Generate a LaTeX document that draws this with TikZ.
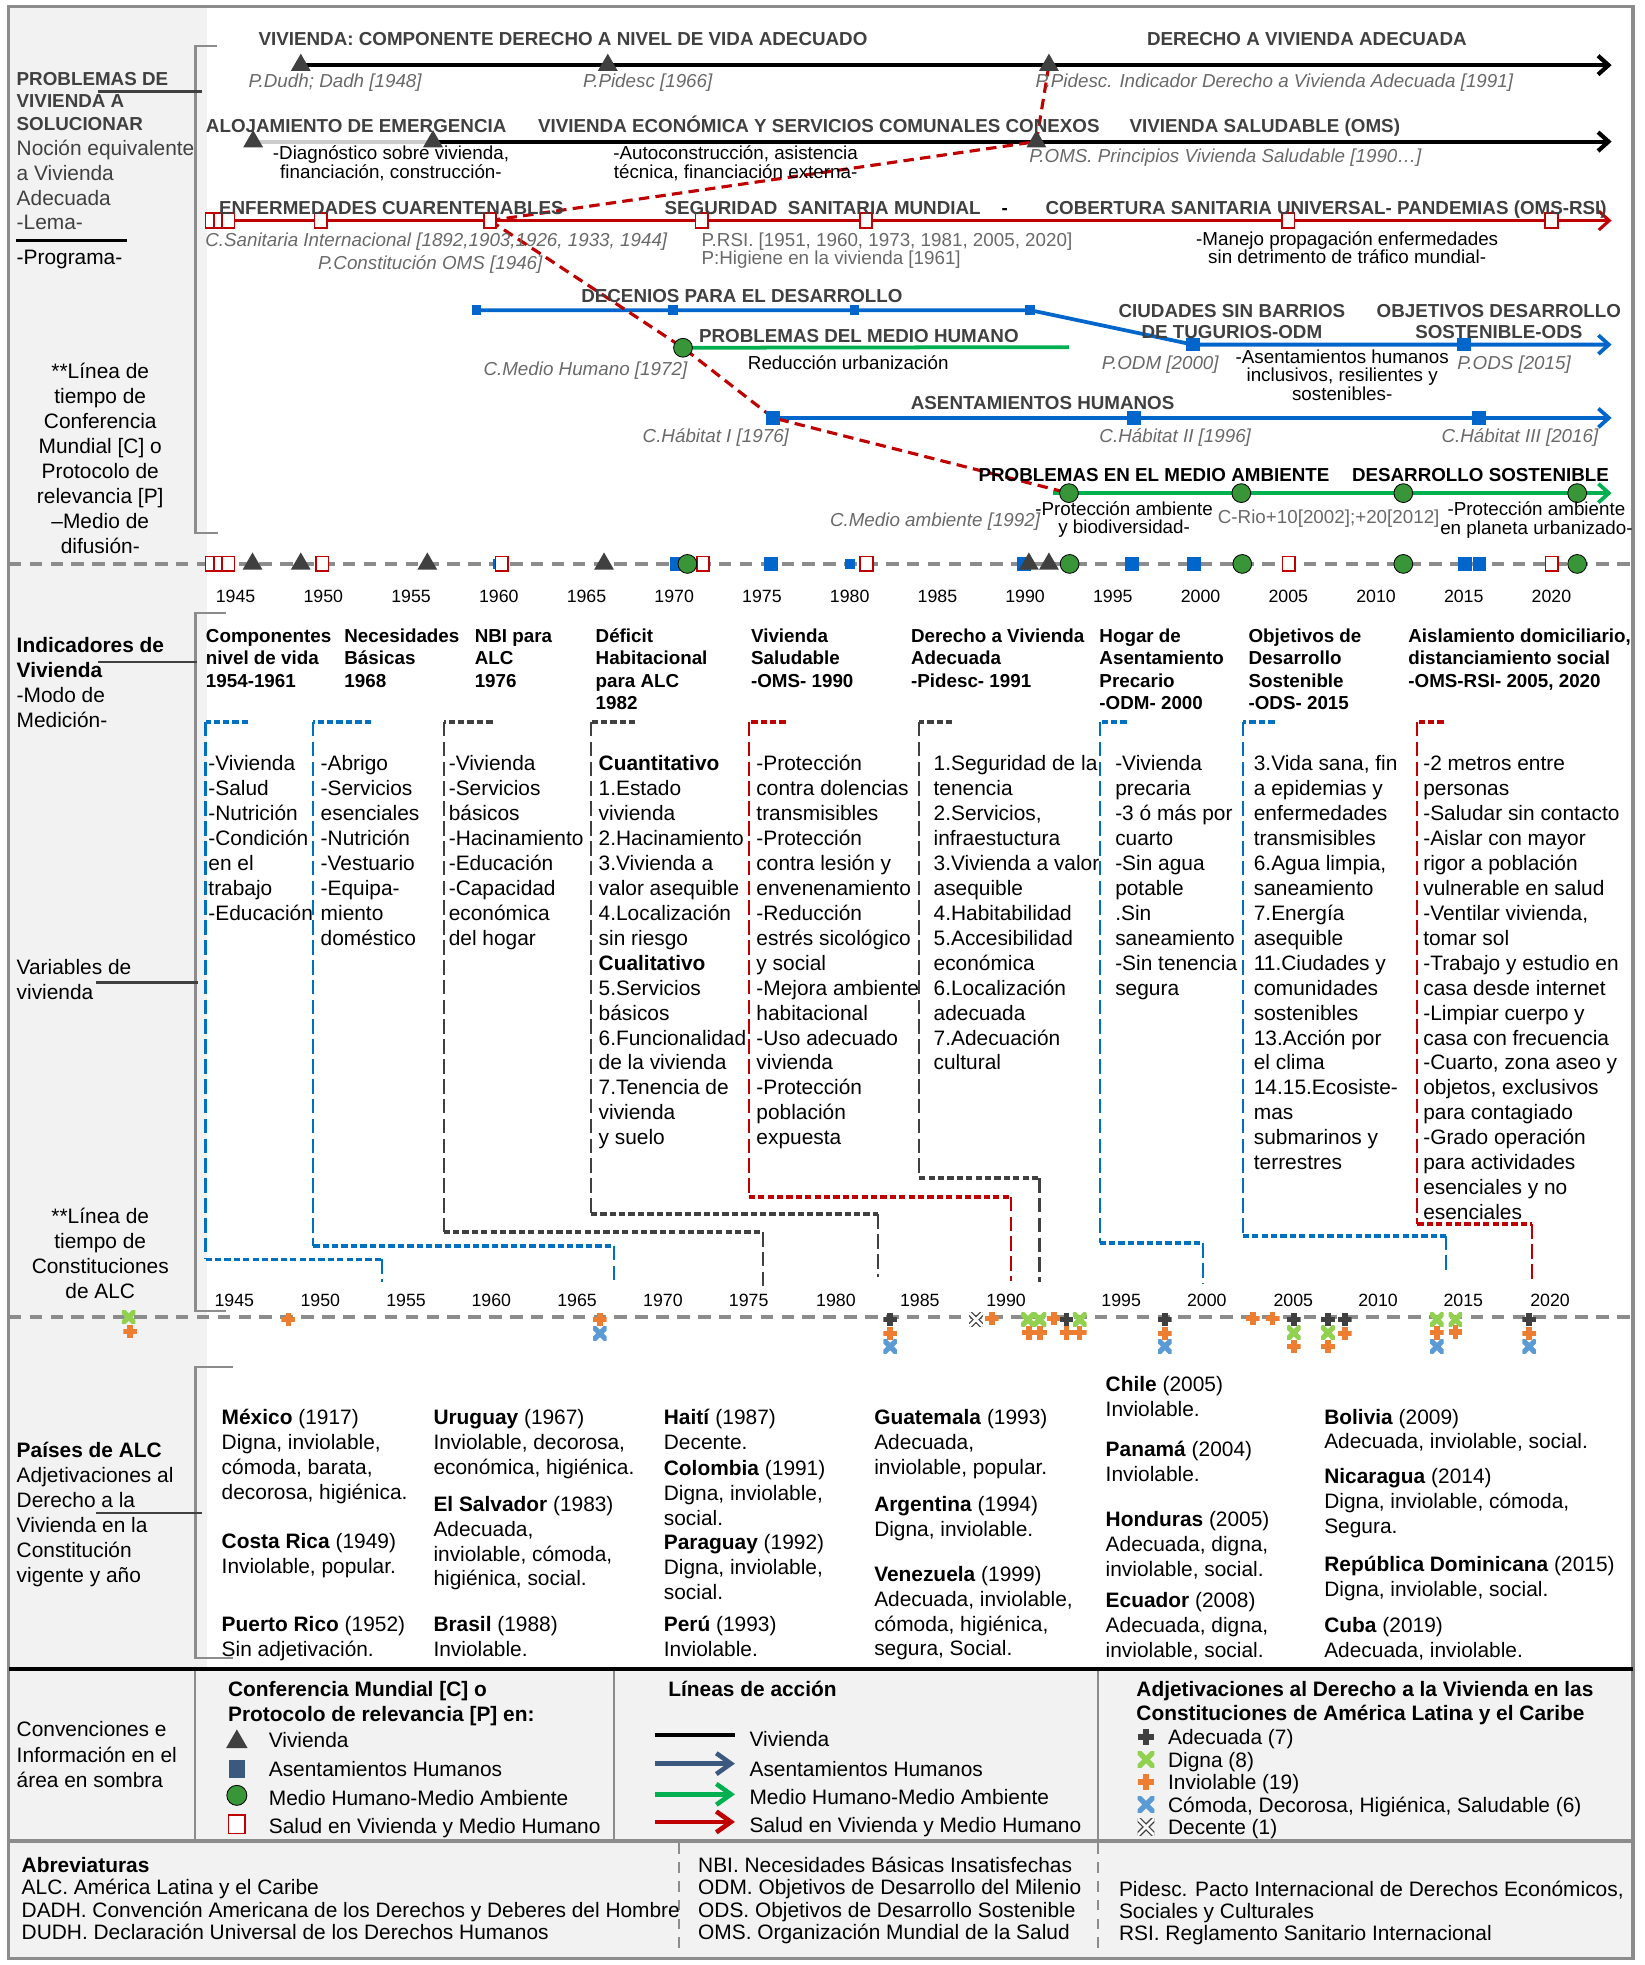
\documentclass[tikz,border=0pt]{standalone}
\usepackage{fontspec}
\setmainfont{Liberation Sans}
\usetikzlibrary{arrows.meta,shapes.geometric}
\definecolor{darkred}{RGB}{192,0,0}
\definecolor{darkgreen}{RGB}{0,176,80}
\definecolor{dotgreen}{RGB}{56,150,56}
\definecolor{darkblue}{RGB}{0,102,204}
\definecolor{bracketblue}{RGB}{0,112,192}
\definecolor{slateblue}{RGB}{59,88,126}
\definecolor{titlegrey}{RGB}{64,64,64}
\definecolor{labelgrey}{RGB}{105,105,105}
\definecolor{framegrey}{RGB}{140,140,140}
\definecolor{shadegrey}{RGB}{242,242,242}
\definecolor{lightgrey}{RGB}{205,205,205}
\definecolor{adjdark}{RGB}{64,64,64}
\definecolor{adjgreen}{RGB}{146,208,80}
\definecolor{adjorange}{RGB}{237,125,49}
\definecolor{adjblue}{RGB}{91,155,213}
\tikzstyle{linetitle}=[anchor=base west,inner sep=0pt,text=titlegrey,font=\bfseries\fontsize{9}{10.3}\selectfont]
\tikzstyle{blocktitle}=[anchor=base,inner sep=0pt,align=center,text=titlegrey,font=\bfseries\fontsize{9}{10.3}\selectfont]
\tikzstyle{eventlabel}=[anchor=base west,inner sep=0pt,text=labelgrey,font=\itshape\fontsize{9}{10.8}\selectfont]
\tikzstyle{eventplain}=[anchor=base west,inner sep=0pt,align=left,text=labelgrey,font=\fontsize{9}{8.8}\selectfont]
\tikzstyle{linenote}=[anchor=base,inner sep=0pt,align=center,font=\fontsize{9}{8.8}\selectfont]
\tikzstyle{sidetext}=[anchor=base west,inner sep=0pt,align=left,font=\fontsize{10}{11.9}\selectfont]
\tikzstyle{sidecenter}=[anchor=base,inner sep=0pt,align=center,font=\fontsize{10}{12}\selectfont]
\tikzstyle{indhead}=[anchor=base west,inner sep=0pt,align=left,font=\bfseries\fontsize{9}{10.8}\selectfont]
\tikzstyle{indvar}=[anchor=base west,inner sep=0pt,align=left,font=\fontsize{10}{11.94}\selectfont]
\tikzstyle{country}=[anchor=base west,inner sep=0pt,align=left,font=\fontsize{10}{12}\selectfont]
\tikzstyle{yearlabel}=[anchor=base,inner sep=0pt,font=\fontsize{8.5}{10}\selectfont]
\tikzstyle{legendtext}=[anchor=base west,inner sep=0pt,align=left,font=\fontsize{10}{12}\selectfont]
\tikzstyle{legendhead}=[anchor=base west,inner sep=0pt,align=left,font=\bfseries\fontsize{10}{11.8}\selectfont]
\tikzstyle{abbrevtext}=[anchor=base west,inner sep=0pt,align=left,font=\fontsize{10}{10.75}\selectfont]
\tikzstyle{protocol}=[regular polygon,regular polygon sides=3,fill=titlegrey,inner sep=0pt,minimum size=11pt]
\tikzstyle{habitat}=[rectangle,fill=darkblue,inner sep=0pt,minimum width=6.5pt,minimum height=6.5pt]
\tikzstyle{habitatsmall}=[rectangle,fill=darkblue,inner sep=0pt,minimum size=4.5pt]
\tikzstyle{environ}=[circle,fill=dotgreen,draw=black,line width=0.4pt,inner sep=0pt,minimum size=9pt]
\tikzstyle{health}=[rectangle,draw=darkred,fill=white,line width=0.8pt,inner sep=0pt,minimum width=6pt,minimum height=7pt]
\tikzstyle{housingline}=[black,line width=2pt]
\tikzstyle{emergencyline}=[lightgrey,line width=2pt]
\tikzstyle{healthline}=[darkred,line width=1.5pt]
\tikzstyle{settleline}=[darkblue,line width=1.8pt]
\tikzstyle{envline}=[darkgreen,line width=1.8pt]
\tikzstyle{healthdash}=[darkred,line width=1.5pt,dash pattern=on 5pt off 3pt]
\tikzstyle{axisline}=[framegrey,line width=1.8pt,dash pattern=on 6pt off 4pt]
\tikzstyle{lineend}=[-{Straight Barb[length=5pt,width=9pt]}]
\tikzstyle{legendarrow}=[-{Straight Barb[length=7pt,width=10pt]}]
\tikzstyle{bracketthin}=[line width=1pt,dash pattern=on 7pt off 2.5pt]
\tikzstyle{bracketthick}=[line width=1.8pt,dash pattern=on 3pt off 1.5pt]
\tikzstyle{sidebracket}=[framegrey,line width=1pt]
\tikzstyle{sidepointer}=[titlegrey,line width=1pt]
\tikzset{
  adjplus/.style={inner sep=0pt,minimum size=6.5pt,
    path picture={\draw[#1,line width=2.6pt] (path picture bounding box.north) -- (path picture bounding box.south) (path picture bounding box.west) -- (path picture bounding box.east);}},
  adjcross/.style={inner sep=0pt,minimum size=6.5pt,
    path picture={\draw[#1,line width=2.5pt] (path picture bounding box.north west) -- (path picture bounding box.south east) (path picture bounding box.south west) -- (path picture bounding box.north east);}},
  adjoutline/.style={inner sep=0pt,minimum size=6.5pt,
    path picture={\draw[titlegrey,line width=2.6pt] (path picture bounding box.north west) -- (path picture bounding box.south east) (path picture bounding box.south west) -- (path picture bounding box.north east);
      \draw[white,line width=1.3pt] (path picture bounding box.north west) -- (path picture bounding box.south east) (path picture bounding box.south west) -- (path picture bounding box.north east);}}
}

\begin{document}
\begin{tikzpicture}[x=0.6pt,y=-0.6pt]
\useasboundingbox (0,0) rectangle (1312,1568);

\fill[shadegrey] (7,5) rectangle (165,1332);
\fill[shadegrey] (7,1332) rectangle (1303,1563);
\draw[framegrey,line width=1.5pt] (7,5) rectangle (1303,1563);

\node[sidetext,text=titlegrey,font=\bfseries\fontsize{9}{10.8}\selectfont] (problemas) at (13,104) {PROBLEMAS DE\\VIVIENDA A\\SOLUCIONAR};
\node[sidetext,text=titlegrey] (nocion) at (13,183.5) {Noción equivalente\\a Vivienda\\Adecuada\\-Lema-};
\node[sidetext] (programa) at (13,211) {-Programa-};
\node[sidecenter] (lineaconf) at (80,442) {**Línea de\\tiempo de\\Conferencia\\Mundial [C] o\\Protocolo de\\relevancia [P]\\–Medio de\\difusión-};
\node[sidetext] (indicadores) at (13,580.5) {\textbf{Indicadores de}\\\textbf{Vivienda}\\-Modo de\\Medición-};
\node[sidetext] (variables) at (13,797.8) {Variables de\\vivienda};
\node[sidecenter] (lineaconst) at (80,1036) {**Línea de\\tiempo de\\Constituciones\\de ALC};
\node[sidetext,font=\fontsize{10}{12}\selectfont] (paises) at (13,1263) {\textbf{Países de ALC}\\Adjetivaciones al\\Derecho a la\\Vivienda en la\\Constitución\\vigente y año};
\node[sidetext,font=\fontsize{10}{12}\selectfont] (convenciones) at (13,1426) {Convenciones e\\Información en el\\área en sombra};

\draw[sidebracket] (173,37) -- (156,37) -- (156,425) -- (174,425);
\draw[sidepointer] (78,73) -- (161,73);
\draw[black,line width=1.2pt] (13,192) -- (101,192);
\draw[sidebracket] (180,489) -- (156,489) -- (156,1046) -- (180,1046);
\draw[sidepointer] (78,528) -- (157,528);
\draw[sidepointer] (77,784) -- (158,784);
\draw[sidebracket] (186,1091) -- (156,1091) -- (156,1323) -- (186,1323);
\draw[sidepointer] (77,1207) -- (161,1207);

\coordinate (axisAw) at (7,450);
\coordinate (axisAe) at (1303,450);
\coordinate (axisBw) at (7,1051);
\coordinate (axisBe) at (1303,1051);
\draw[axisline] (axisAw) -- (axisAe);
\draw[axisline] (axisBw) -- (axisBe);

\coordinate (dudh) at (240,52);
\coordinate (pidesc) at (485,52);
\coordinate (pidescind) at (837,52);
\coordinate (row1end) at (1286,52);
\coordinate (emerg) at (202,113);
\coordinate (econ) at (345.5,113);
\coordinate (omsprin) at (827,113);
\coordinate (row2end) at (1286,113);
\coordinate (cs1892) at (169,176);
\coordinate (cs1903) at (176,176);
\coordinate (cs1926) at (182,176);
\coordinate (cs1933) at (256,176);
\coordinate (pconst) at (391,176);
\coordinate (rsi1951) at (560,176);
\coordinate (rsi1961) at (691,176);
\coordinate (rsi2005) at (1028,176);
\coordinate (rsi2020) at (1238,176);
\coordinate (row3end) at (1286,176);
\coordinate (dec1) at (380,247.5);
\coordinate (dec2) at (537,247.5);
\coordinate (dec3) at (682,247.5);
\coordinate (dec4) at (822,247.5);
\coordinate (podm) at (952,275);
\coordinate (pods) at (1168,275);
\coordinate (row4end) at (1286,275);
\coordinate (cmh) at (545,277.5);
\coordinate (row5end) at (853,277);
\coordinate (hab1) at (617,333.5);
\coordinate (hab2) at (905,333.5);
\coordinate (hab3) at (1180,333.5);
\coordinate (row6end) at (1286,333.5);
\coordinate (row7start) at (840,393.5);
\coordinate (cma) at (853,393.5);
\coordinate (rio10) at (990.5,393.5);
\coordinate (rio20) at (1119.8,393.5);
\coordinate (ma2022) at (1258.5,393.5);
\coordinate (row7end) at (1286,393.5);

\draw[housingline,lineend] (dudh) -- (pidesc) -- (pidescind) -- (row1end);
\draw[emergencyline] (emerg) -- (econ);
\draw[housingline,lineend] (econ) -- (omsprin) -- (row2end);
\draw[healthline,lineend] (cs1892) -- (row3end);
\draw[settleline,lineend] (dec1) -- (dec2) -- (dec3) -- (dec4) -- (podm) -- (pods) -- (row4end);
\draw[envline] (cmh) -- (row5end);
\draw[settleline,lineend] (hab1) -- (hab2) -- (hab3) -- (row6end);
\draw[envline,lineend] (row7start) -- (row7end);
\draw[healthdash] (pconst) -- (omsprin) -- (pidescind);
\draw[healthdash] (pconst) -- (cmh) -- (hab1) -- (cma);

\node[protocol] (dudh-m) at (dudh) {};
\node[protocol] (pidesc-m) at (pidesc) {};
\node[protocol] (pidescind-m) at (pidescind) {};
\node[protocol] (emerg-m) at (emerg) {};
\node[protocol] (econ-m) at (econ) {};
\node[protocol] (omsprin-m) at (omsprin) {};
\node[health] (cs1892-m) at (cs1892) {};
\node[health] (cs1903-m) at (cs1903) {};
\node[health] (cs1926-m) at (cs1926) {};
\node[health] (cs1933-m) at (cs1933) {};
\node[health] (pconst-m) at (pconst) {};
\node[health] (rsi1951-m) at (rsi1951) {};
\node[health] (rsi1961-m) at (rsi1961) {};
\node[health] (rsi2005-m) at (rsi2005) {};
\node[health] (rsi2020-m) at (rsi2020) {};
\node[habitatsmall] (dec1-m) at (dec1) {};
\node[habitatsmall] (dec2-m) at (dec2) {};
\node[habitatsmall] (dec3-m) at (dec3) {};
\node[habitatsmall] (dec4-m) at (dec4) {};
\node[habitat] (podm-m) at (podm) {};
\node[habitat] (pods-m) at (pods) {};
\node[environ] (cmh-m) at (cmh) {};
\node[habitat] (hab1-m) at (hab1) {};
\node[habitat] (hab2-m) at (hab2) {};
\node[habitat] (hab3-m) at (hab3) {};
\node[environ] (cma-m) at (cma) {};
\node[environ] (rio10-m) at (rio10) {};
\node[environ] (rio20-m) at (rio20) {};
\node[environ] (ma2022-m) at (ma2022) {};

\node[linetitle] (t-nivel) at (206,36.5) {VIVIENDA: COMPONENTE DERECHO A NIVEL DE VIDA ADECUADO};
\node[linetitle] (t-derecho) at (915,36.5) {DERECHO A VIVIENDA ADECUADA};
\node[eventlabel] (l-dudh) at (198,69.5) {P.Dudh; Dadh [1948]};
\node[eventlabel] (l-pidesc) at (465,69.5) {P.Pidesc [1966]};
\node[eventlabel] (l-pidescind) at (826,69.5) {P.Pidesc. Indicador Derecho a Vivienda Adecuada [1991]};
\node[linetitle] (t-aloj) at (164,105.5) {ALOJAMIENTO DE EMERGENCIA};
\node[linetitle] (t-econ) at (429,105.5) {VIVIENDA ECONÓMICA Y SERVICIOS COMUNALES CONEXOS};
\node[linetitle] (t-salud) at (901,105.5) {VIVIENDA SALUDABLE (OMS)};
\node[linenote] (n-diag) at (312,142.2) {-Diagnóstico sobre vivienda,\\financiación, construcción-};
\node[linenote] (n-auto) at (587,142.2) {-Autoconstrucción, asistencia\\técnica, financiación externa-};
\node[eventlabel] (l-omsprin) at (821,130) {P.OMS. Principios Vivienda Saludable [1990…]};
\node[linetitle] (t-enferm) at (174.5,171) {ENFERMEDADES CUARENTENABLES};
\node[linetitle] (t-seguridad) at (530,171) {SEGURIDAD\ \ SANITARIA MUNDIAL};
\node[linetitle,text=black] (t-guion) at (799,171) {-};
\node[linetitle] (t-cobertura) at (834,171) {COBERTURA SANITARIA UNIVERSAL- PANDEMIAS (OMS-RSI)};
\node[eventlabel] (l-csanit) at (163.5,196.5) {C.Sanitaria Internacional [1892,1903,1926, 1933, 1944]};
\node[eventlabel] (l-pconst) at (253.5,215) {P.Constitución OMS [1946]};
\node[eventplain] (l-rsi) at (559.5,211.2) {P.RSI. [1951, 1960, 1973, 1981, 2005, 2020]\\P:Higiene en la vivienda [1961]};
\node[linenote] (n-manejo) at (1075,210.2) {-Manejo propagación enfermedades\\sin detrimento de tráfico mundial-};
\node[linetitle] (t-decenios) at (463.5,241) {DECENIOS PARA EL DESARROLLO};
\node[blocktitle] (t-tugurios) at (983,270.2) {CIUDADES SIN BARRIOS\\DE TUGURIOS-ODM};
\node[blocktitle] (t-ods) at (1196,270.2) {OBJETIVOS DESARROLLO\\SOSTENIBLE-ODS};
\node[eventlabel] (l-podm) at (879,295) {P.ODM [2000]};
\node[eventlabel] (l-pods) at (1162.5,295) {P.ODS [2015]};
\node[linenote] (n-asent) at (1071,319.3) {-Asentamientos humanos\\inclusivos, resilientes y\\sostenibles-};
\node[linetitle] (t-medhum) at (557.5,273) {PROBLEMAS DEL MEDIO HUMANO};
\node[anchor=base west,inner sep=0pt,font=\fontsize{9}{10}\selectfont] (n-reduc) at (596.5,294.5) {Reducción urbanización};
\node[eventlabel] (l-cmh) at (385.5,300) {C.Medio Humano [1972]};
\node[linetitle] (t-asent) at (726.5,327) {ASENTAMIENTOS HUMANOS};
\node[eventlabel] (l-hab1) at (512.5,353.5) {C.Hábitat I [1976]};
\node[eventlabel] (l-hab2) at (877,353.5) {C.Hábitat II [1996]};
\node[eventlabel] (l-hab3) at (1150,353.5) {C.Hábitat III [2016]};
\node[linetitle,text=black] (t-medamb) at (780.5,384) {PROBLEMAS EN EL MEDIO AMBIENTE};
\node[linetitle,text=black] (t-dessost) at (1078.5,384) {DESARROLLO SOSTENIBLE};
\node[eventlabel] (l-cma) at (662,420.5) {C.Medio ambiente [1992]};
\node[linenote] (n-biodiv) at (897,425.7) {-Protección ambiente\\y biodiversidad-};
\node[eventplain] (l-rio) at (971.5,418) {C-Rio+10[2002];+20[2012]};
\node[linenote] (n-urban) at (1226,426.2) {-Protección ambiente\\en planeta urbanizado-};

\node[habitatsmall] (a-hab1) at (397,450) {};
\node[habitat] (a-hab2) at (540,450) {};
\node[habitat] (a-hab3) at (615,450) {};
\node[habitatsmall] (a-hab4) at (678.4,450) {};
\node[habitat] (a-hab5) at (817,450) {};
\node[habitat] (a-hab6) at (903.5,450) {};
\node[habitat] (a-hab7) at (952.6,450) {};
\node[habitat] (a-hab8) at (1168.9,450) {};
\node[habitat] (a-hab9) at (1180.7,450) {};
\node[health] (a-sal1) at (169,450) {};
\node[health] (a-sal2) at (176,450) {};
\node[health] (a-sal3) at (182,450) {};
\node[health] (a-sal4) at (257,450) {};
\node[health] (a-sal5) at (400.5,450) {};
\node[health] (a-sal6) at (561,450) {};
\node[health] (a-sal7) at (691.4,450) {};
\node[health] (a-sal8) at (1028.3,450) {};
\node[health] (a-sal9) at (1238.3,450) {};
\node[protocol] (a-viv1) at (201.5,450) {};
\node[protocol] (a-viv2) at (240,450) {};
\node[protocol] (a-viv3) at (341,450) {};
\node[protocol] (a-viv4) at (482,450) {};
\node[protocol] (a-viv5) at (821,450) {};
\node[protocol] (a-viv6) at (837,450) {};
\node[environ] (a-amb1) at (548.5,450) {};
\node[environ] (a-amb2) at (853.5,450) {};
\node[environ] (a-amb3) at (991.3,450) {};
\node[environ] (a-amb4) at (1119.8,450) {};
\node[environ] (a-amb5) at (1258.5,450) {};

\node[yearlabel] (ya1945) at (188,480.5) {1945};
\node[yearlabel] (ya1950) at (258,480.5) {1950};
\node[yearlabel] (ya1955) at (328,480.5) {1955};
\node[yearlabel] (ya1960) at (398,480.5) {1960};
\node[yearlabel] (ya1965) at (468,480.5) {1965};
\node[yearlabel] (ya1970) at (538,480.5) {1970};
\node[yearlabel] (ya1975) at (608,480.5) {1975};
\node[yearlabel] (ya1980) at (678,480.5) {1980};
\node[yearlabel] (ya1985) at (748,480.5) {1985};
\node[yearlabel] (ya1990) at (818,480.5) {1990};
\node[yearlabel] (ya1995) at (888,480.5) {1995};
\node[yearlabel] (ya2000) at (958,480.5) {2000};
\node[yearlabel] (ya2005) at (1028,480.5) {2005};
\node[yearlabel] (ya2010) at (1098,480.5) {2010};
\node[yearlabel] (ya2015) at (1168,480.5) {2015};
\node[yearlabel] (ya2020) at (1238,480.5) {2020};

\node[indhead] (h1) at (164,548.5) {Componentes\\nivel de vida\\1954-1961};
\node[indhead] (h2) at (274.5,548.5) {Necesidades\\Básicas\\1968};
\node[indhead] (h3) at (378.5,548.5) {NBI para\\ALC\\1976};
\node[indhead] (h4) at (475,566.5) {Déficit\\Habitacional\\para ALC\\1982};
\node[indhead] (h5) at (599,548.5) {Vivienda\\Saludable\\-OMS- 1990};
\node[indhead] (h6) at (726.7,548.5) {Derecho a Vivienda\\Adecuada\\-Pidesc- 1991};
\node[indhead] (h7) at (877,566.5) {Hogar de\\Asentamiento\\Precario\\-ODM- 2000};
\node[indhead] (h8) at (996,566.5) {Objetivos de\\Desarrollo\\Sostenible\\-ODS- 2015};
\node[indhead] (h9) at (1123.5,548.5) {Aislamiento domiciliario,\\distanciamiento social\\-OMS-RSI- 2005, 2020};

\node[indvar] (v1) at (166,734.4) {-Vivienda\\-Salud\\-Nutrición\\-Condición\\en el\\trabajo\\-Educación};
\node[indvar] (v2) at (255.6,754.3) {-Abrigo\\-Servicios\\esenciales\\-Nutrición\\-Vestuario\\-Equipa-\\miento\\doméstico};
\node[indvar] (v3) at (357.8,754.3) {-Vivienda\\-Servicios\\básicos\\-Hacinamiento\\-Educación\\-Capacidad\\económica\\del hogar};
\node[indvar] (v4) at (477.4,913.5) {\textbf{Cuantitativo}\\1.Estado\\vivienda\\2.Hacinamiento\\3.Vivienda a\\valor asequible\\4.Localización\\sin riesgo\\\textbf{Cualitativo}\\5.Servicios\\básicos\\6.Funcionalidad\\de la vivienda\\7.Tenencia de\\vivienda\\y suelo};
\node[indvar] (v5) at (603.3,913.5) {-Protección\\contra dolencias\\transmisibles\\-Protección\\contra lesión y\\envenenamiento\\-Reducción\\estrés sicológico\\y social\\-Mejora ambiente\\habitacional\\-Uso adecuado\\vivienda\\-Protección\\población\\expuesta};
\node[indvar] (v6) at (744.7,853.8) {1.Seguridad de la\\tenencia\\2.Servicios,\\infraestuctura\\3.Vivienda a valor\\asequible\\4.Habitabilidad\\5.Accesibilidad\\económica\\6.Localización\\adecuada\\7.Adecuación\\cultural};
\node[indvar] (v7) at (889.6,794.1) {-Vivienda\\precaria\\-3 ó más por\\cuarto\\-Sin agua\\potable\\.Sin\\saneamiento\\-Sin tenencia\\segura};
\node[indvar] (v8) at (1000.2,933.4) {3.Vida sana, fin\\a epidemias y\\enfermedades\\transmisibles\\6.Agua limpia,\\saneamiento\\7.Energía\\asequible\\11.Ciudades y\\comunidades\\sostenibles\\13.Acción por\\el clima\\14.15.Ecosiste-\\mas\\submarinos y\\terrestres};
\node[indvar] (v9) at (1135.4,973.2) {-2 metros entre\\personas\\-Saludar sin contacto\\-Aislar con mayor\\rigor a población\\vulnerable en salud\\-Ventilar vivienda,\\tomar sol\\-Trabajo y estudio en\\casa desde internet\\-Limpiar cuerpo y\\casa con frecuencia\\-Cuarto, zona aseo y\\objetos, exclusivos\\para contagiado\\-Grado operación\\para actividades\\esenciales y no\\esenciales};

\coordinate (b1a) at (198,576); \coordinate (b1b) at (164,576); \coordinate (b1c) at (164,1005); \coordinate (b1d) at (305,1005); \coordinate (b1e) at (305,1023);
\coordinate (b2a) at (296,576); \coordinate (b2b) at (250,576); \coordinate (b2c) at (250,994); \coordinate (b2d) at (490,994); \coordinate (b2e) at (490,1025);
\coordinate (b3a) at (393,576); \coordinate (b3b) at (354,576); \coordinate (b3c) at (354,983); \coordinate (b3d) at (608.5,983); \coordinate (b3e) at (608.5,1028);
\coordinate (b4a) at (507,576); \coordinate (b4b) at (471.5,576); \coordinate (b4c) at (471.5,969); \coordinate (b4d) at (700.5,969); \coordinate (b4e) at (700.5,1019);
\coordinate (b5a) at (627,576); \coordinate (b5b) at (597.5,576); \coordinate (b5c) at (597.5,955); \coordinate (b5d) at (806.5,955); \coordinate (b5e) at (806.5,1022);
\coordinate (b6a) at (760,576); \coordinate (b6b) at (733.5,576); \coordinate (b6c) at (733.5,940); \coordinate (b6d) at (829.5,940); \coordinate (b6e) at (829.5,1023);
\coordinate (b7a) at (899,576); \coordinate (b7b) at (877.5,576); \coordinate (b7c) at (877.5,992); \coordinate (b7d) at (960,992); \coordinate (b7e) at (960,1024);
\coordinate (b8a) at (1017,576); \coordinate (b8b) at (991.7,576); \coordinate (b8c) at (991.7,986); \coordinate (b8d) at (1153.5,986); \coordinate (b8e) at (1153.5,1016);
\coordinate (b9a) at (1152,576); \coordinate (b9b) at (1131,576); \coordinate (b9c) at (1131,977); \coordinate (b9d) at (1222.7,977); \coordinate (b9e) at (1222.7,1022);

\draw[bracketthick,bracketblue] (b1a) -- (b1b) (b1c) -- (b1d);
\draw[bracketthin,bracketblue] (b1b) -- (b1c) (b1d) -- (b1e);
\draw[bracketthick,bracketblue] (b2a) -- (b2b) (b2c) -- (b2d);
\draw[bracketthin,bracketblue] (b2b) -- (b2c) (b2d) -- (b2e);
\draw[bracketthick,titlegrey] (b3a) -- (b3b) (b3c) -- (b3d);
\draw[bracketthin,titlegrey] (b3b) -- (b3c) (b3d) -- (b3e);
\draw[bracketthick,titlegrey] (b4a) -- (b4b) (b4c) -- (b4d);
\draw[bracketthin,titlegrey] (b4b) -- (b4c) (b4d) -- (b4e);
\draw[bracketthick,darkred] (b5a) -- (b5b) (b5c) -- (b5d);
\draw[bracketthin,darkred] (b5b) -- (b5c) (b5d) -- (b5e);
\draw[bracketthick,titlegrey] (b6a) -- (b6b) (b6c) -- (b6d);
\draw[bracketthin,titlegrey] (b6b) -- (b6c) (b6d) -- (b6e);
\draw[bracketthick,bracketblue] (b7a) -- (b7b) (b7c) -- (b7d);
\draw[bracketthin,bracketblue] (b7b) -- (b7c) (b7d) -- (b7e);
\draw[bracketthick,bracketblue] (b8a) -- (b8b) (b8c) -- (b8d);
\draw[bracketthin,bracketblue] (b8b) -- (b8c) (b8d) -- (b8e);
\draw[bracketthick,darkred] (b9a) -- (b9b) (b9c) -- (b9d);
\draw[bracketthin,darkred] (b9b) -- (b9c) (b9d) -- (b9e);

\node[yearlabel] (yb1945) at (187,1042.5) {1945};
\node[yearlabel] (yb1950) at (255.6,1042.5) {1950};
\node[yearlabel] (yb1955) at (324,1042.5) {1955};
\node[yearlabel] (yb1960) at (392,1042.5) {1960};
\node[yearlabel] (yb1965) at (460.5,1042.5) {1965};
\node[yearlabel] (yb1970) at (529,1042.5) {1970};
\node[yearlabel] (yb1975) at (597.4,1042.5) {1975};
\node[yearlabel] (yb1980) at (667,1042.5) {1980};
\node[yearlabel] (yb1985) at (734,1042.5) {1985};
\node[yearlabel] (yb1990) at (802.8,1042.5) {1990};
\node[yearlabel] (yb1995) at (894.7,1042.5) {1995};
\node[yearlabel] (yb2000) at (963,1042.5) {2000};
\node[yearlabel] (yb2005) at (1032,1042.5) {2005};
\node[yearlabel] (yb2010) at (1099.6,1042.5) {2010};
\node[yearlabel] (yb2015) at (1167.7,1042.5) {2015};
\node[yearlabel] (yb2020) at (1236.9,1042.5) {2020};

\node[adjcross=adjgreen] (mex1) at (102.7,1051) {};
\node[adjplus=adjorange] (mex2) at (103.8,1062.5) {};
\node[adjplus=adjorange] (cri1) at (230,1053) {};
\node[adjplus=adjorange] (ury1) at (478.7,1053) {};
\node[adjcross=adjblue] (ury2) at (478.7,1064) {};
\node[adjplus=adjdark] (slv1) at (710.3,1053) {};
\node[adjplus=adjorange] (slv2) at (710.3,1064) {};
\node[adjcross=adjblue] (slv3) at (710.3,1074.5) {};
\node[adjoutline] (hti1) at (778.8,1053) {};
\node[adjplus=adjorange] (bra1) at (791.4,1052) {};
\node[adjcross=adjgreen] (col1) at (820.3,1053) {};
\node[adjplus=adjorange] (col2) at (821,1063.5) {};
\node[adjcross=adjgreen] (pry1) at (829.5,1053) {};
\node[adjplus=adjorange] (pry2) at (830,1063.5) {};
\node[adjplus=adjorange] (per1) at (841,1052) {};
\node[adjplus=adjdark] (gtm1) at (851.1,1053) {};
\node[adjplus=adjorange] (gtm2) at (851.1,1063.5) {};
\node[adjcross=adjgreen] (arg1) at (861.6,1053) {};
\node[adjplus=adjorange] (arg2) at (861.6,1063.5) {};
\node[adjplus=adjdark] (ven1) at (929.5,1053) {};
\node[adjplus=adjorange] (ven2) at (929.5,1064) {};
\node[adjcross=adjblue] (ven3) at (929.5,1074.5) {};
\node[adjplus=adjorange] (pan1) at (999.7,1052) {};
\node[adjplus=adjorange] (chl1) at (1015.6,1052) {};
\node[adjplus=adjdark] (hnd1) at (1032.4,1053) {};
\node[adjcross=adjgreen] (hnd2) at (1032.4,1063.5) {};
\node[adjplus=adjorange] (hnd3) at (1032.4,1074.5) {};
\node[adjplus=adjdark] (ecu1) at (1059.7,1053) {};
\node[adjcross=adjgreen] (ecu2) at (1059.7,1063.5) {};
\node[adjplus=adjorange] (ecu3) at (1059.7,1074.5) {};
\node[adjplus=adjdark] (bol1) at (1073.1,1053) {};
\node[adjplus=adjorange] (bol2) at (1073.1,1064) {};
\node[adjcross=adjgreen] (nic1) at (1146.6,1053) {};
\node[adjplus=adjorange] (nic2) at (1146.6,1063.5) {};
\node[adjcross=adjblue] (nic3) at (1146.6,1074.5) {};
\node[adjcross=adjgreen] (dom1) at (1161.3,1053) {};
\node[adjplus=adjorange] (dom2) at (1161.3,1063) {};
\node[adjplus=adjdark] (cub1) at (1220.2,1053) {};
\node[adjplus=adjorange] (cub2) at (1220.2,1064) {};
\node[adjcross=adjblue] (cub3) at (1220.2,1074.5) {};

\node[country] (mexico) at (176.6,1196.5) {\textbf{México} (1917)\\Digna, inviolable,\\cómoda, barata,\\decorosa, higiénica.};
\node[country] (costarica) at (176.6,1255.5) {\textbf{Costa Rica} (1949)\\Inviolable, popular.};
\node[country] (puertorico) at (176.6,1321.5) {\textbf{Puerto Rico} (1952)\\Sin adjetivación.};
\node[country] (uruguay) at (345.6,1176.5) {\textbf{Uruguay} (1967)\\Inviolable, decorosa,\\económica, higiénica.};
\node[country,font=\fontsize{10}{11.8}\selectfont] (salvador) at (345.6,1265.5) {\textbf{El Salvador} (1983)\\Adecuada,\\inviolable, cómoda,\\higiénica, social.};
\node[country] (brasil) at (345.6,1321.5) {\textbf{Brasil} (1988)\\Inviolable.};
\node[country] (haiti) at (529.4,1156.5) {\textbf{Haití} (1987)\\Decente.};
\node[country] (colombia) at (529.4,1217.3) {\textbf{Colombia} (1991)\\Digna, inviolable,\\social.};
\node[country] (paraguay) at (529.4,1276.4) {\textbf{Paraguay} (1992)\\Digna, inviolable,\\social.};
\node[country] (peru) at (529.4,1321.5) {\textbf{Perú} (1993)\\Inviolable.};
\node[country] (guatemala) at (697.3,1176.5) {\textbf{Guatemala} (1993)\\Adecuada,\\inviolable, popular.};
\node[country] (argentina) at (697.3,1226.3) {\textbf{Argentina} (1994)\\Digna, inviolable.};
\node[country,font=\fontsize{10}{11.8}\selectfont] (venezuela) at (697.3,1321.2) {\textbf{Venezuela} (1999)\\Adecuada, inviolable,\\cómoda, higiénica,\\segura, Social.};
\node[country] (chile) at (882,1130) {\textbf{Chile} (2005)\\Inviolable.};
\node[country] (panama) at (882,1181.9) {\textbf{Panamá} (2004)\\Inviolable.};
\node[country] (honduras) at (882,1257.8) {\textbf{Honduras} (2005)\\Adecuada, digna,\\inviolable, social.};
\node[country] (ecuador) at (882,1322.4) {\textbf{Ecuador} (2008)\\Adecuada, digna,\\inviolable, social.};
\node[country,font=\fontsize{10}{11.4}\selectfont] (bolivia) at (1056.4,1156) {\textbf{Bolivia} (2009)\\Adecuada, inviolable, social.};
\node[country] (nicaragua) at (1056.4,1224) {\textbf{Nicaragua} (2014)\\Digna, inviolable, cómoda,\\Segura.};
\node[country] (dominicana) at (1056.4,1274.2) {\textbf{República Dominicana} (2015)\\Digna, inviolable, social.};
\node[country] (cuba) at (1056.4,1322.3) {\textbf{Cuba} (2019)\\Adecuada, inviolable.};

\draw[black,line width=2pt] (7,1332) -- (1303,1332);
\draw[framegrey,line width=1.2pt] (155.5,1333) -- (155.5,1469);
\draw[framegrey,line width=1.2pt] (490,1333) -- (490,1469);
\draw[framegrey,line width=1.2pt] (876,1333) -- (876,1469);
\draw[framegrey,line width=1.5pt] (7,1469) -- (1303,1469);
\draw[framegrey,line width=1pt,dash pattern=on 5pt off 4pt] (542,1471) -- (542,1557);
\draw[framegrey,line width=1pt,dash pattern=on 5pt off 4pt] (876,1471) -- (876,1557);

\node[legendhead] (confhead) at (181.7,1373.7) {Conferencia Mundial [C] o\\Protocolo de relevancia [P] en:};
\node[protocol,minimum size=12pt] (leg-viv) at (189,1390) {};
\node[rectangle,fill=slateblue,inner sep=0pt,minimum width=8pt,minimum height=8.8pt] (leg-hab) at (189,1411.8) {};
\node[environ,minimum size=9.6pt] (leg-amb) at (189,1432.6) {};
\node[health,minimum width=8pt,minimum height=8.8pt] (leg-sal) at (189,1455.7) {};
\node[legendtext] (leg-viv-t) at (214.2,1394.7) {Vivienda};
\node[legendtext] (leg-hab-t) at (214.2,1417.8) {Asentamientos Humanos};
\node[legendtext] (leg-amb-t) at (214.2,1440.9) {Medio Humano-Medio Ambiente};
\node[legendtext] (leg-sal-t) at (214.2,1463.2) {Salud en Vivienda y Medio Humano};

\node[legendhead] (lineashead) at (533,1354) {Líneas de acción};
\coordinate (la1a) at (523,1384.7); \coordinate (la1b) at (586.4,1384.7);
\coordinate (la2a) at (523,1407.3); \coordinate (la2b) at (586.4,1407.3);
\coordinate (la3a) at (523,1431.8); \coordinate (la3b) at (586.4,1431.8);
\coordinate (la4a) at (523,1453.8); \coordinate (la4b) at (586.4,1453.8);
\draw[black,line width=2pt] (la1a) -- (la1b);
\draw[slateblue,line width=2.2pt,legendarrow] (la2a) -- (la2b);
\draw[darkgreen,line width=2.2pt,legendarrow] (la3a) -- (la3b);
\draw[darkred,line width=2.2pt,legendarrow] (la4a) -- (la4b);
\node[legendtext] (la1t) at (597.8,1393.3) {Vivienda};
\node[legendtext] (la2t) at (597.8,1417.2) {Asentamientos Humanos};
\node[legendtext] (la3t) at (597.8,1439.8) {Medio Humano-Medio Ambiente};
\node[legendtext] (la4t) at (597.8,1462.4) {Salud en Vivienda y Medio Humano};

\node[legendhead] (adjhead) at (906.5,1373.2) {Adjetivaciones al Derecho a la Vivienda en las\\Constituciones de América Latina y el Caribe};
\node[adjplus=adjdark,minimum size=8pt] (leg-adec) at (914.5,1386) {};
\node[adjcross=adjgreen,minimum size=8pt] (leg-dig) at (914.5,1404) {};
\node[adjplus=adjorange,minimum size=8pt] (leg-inv) at (914.5,1422) {};
\node[adjcross=adjblue,minimum size=8pt] (leg-com) at (914.5,1440) {};
\node[adjoutline,minimum size=8pt] (leg-dec) at (914.5,1457.8) {};
\node[legendtext] (leg-adec-t) at (931.8,1392) {Adecuada (7)};
\node[legendtext] (leg-dig-t) at (931.8,1410) {Digna (8)};
\node[legendtext] (leg-inv-t) at (931.8,1428) {Inviolable (19)};
\node[legendtext] (leg-com-t) at (931.8,1446) {Cómoda, Decorosa, Higiénica, Saludable (6)};
\node[legendtext] (leg-dec-t) at (931.8,1464) {Decente (1)};

\node[abbrevtext] (abrev1) at (17,1547.8) {\textbf{Abreviaturas}\\ALC. América Latina y el Caribe\\DADH. Convención Americana de los Derechos y Deberes del Hombre\\DUDH. Declaración Universal de los Derechos Humanos};
\node[abbrevtext] (abrev2) at (556.8,1547.8) {NBI. Necesidades Básicas Insatisfechas\\ODM. Objetivos de Desarrollo del Milenio\\ODS. Objetivos de Desarrollo Sostenible\\OMS. Organización Mundial de la Salud};
\node[abbrevtext] (abrev3) at (892.6,1548.8) {Pidesc. Pacto Internacional de Derechos Económicos,\\Sociales y Culturales\\RSI. Reglamento Sanitario Internacional};

\end{tikzpicture}
\end{document}
